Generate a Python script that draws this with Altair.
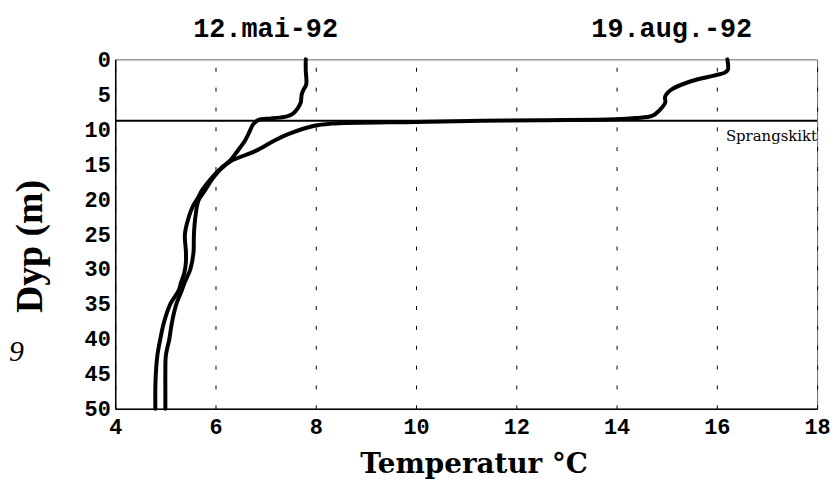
import altair as alt
import pandas as pd

# ---- data ----
may_depth = [0, 1.5, 3.6, 4.3, 5.0, 6.2, 7.0, 7.8, 8.2, 8.45, 8.7, 9.3, 10.5, 11.6, 13.0,
             14.5, 15.5, 16.9, 18.75, 19.7, 21.0, 22.5, 25.0, 27.5, 29.0, 30.5, 32.0,
             33.0, 35.0, 37.7, 40.0, 42.4, 45.0, 47.2, 50.0]
may_temp = [7.80, 7.80, 7.81, 7.76, 7.72, 7.70, 7.64, 7.54, 7.41, 7.10, 6.85, 6.75, 6.67,
            6.59, 6.45, 6.29, 6.12, 5.93, 5.73, 5.66, 5.55, 5.47, 5.39, 5.41, 5.41, 5.38,
            5.31, 5.27, 5.10, 4.97, 4.90, 4.84, 4.81, 4.80, 4.80]

aug_depth = [0, 1.5, 1.9, 2.3, 3.1, 4.3, 5.3, 6.2, 7.4, 8.1, 8.4, 8.57, 8.7, 8.8, 8.95,
             9.2, 9.5, 10.7, 11.6, 13.1, 14.6, 15.8, 17.0, 18.75, 20.2, 22.5, 25.0, 27.7,
             30.0, 32.0, 33.0, 35.0, 37.7, 40.0, 42.4, 45.0, 47.2, 50.0]
aug_temp = [16.21, 16.22, 16.16, 15.96, 15.50, 15.10, 14.97, 14.97, 14.84, 14.71, 14.38,
            13.98, 12.5, 11.3, 10.0, 8.30, 7.97, 7.45, 7.18, 6.80, 6.30, 6.09, 5.95, 5.79,
            5.66, 5.60, 5.57, 5.56, 5.50, 5.38, 5.33, 5.22, 5.13, 5.08, 5.01, 5.00, 5.00,
            5.00]

series_names = ["12.mai-92", "19.aug.-92"]
series_label_temp = [7.0, 15.1]

thermocline_depth = [8.8]
thermocline_label = ["Sprangskikt"]

x_ticks = [4, 6, 8, 10, 12, 14, 16, 18]
y_ticks = [0, 5, 10, 15, 20, 25, 30, 35, 40, 45, 50]

stray_text = ["9"]

# ---- tables ----
df = pd.concat([
    pd.DataFrame({"depth": may_depth, "temp": may_temp, "series": series_names[0]}),
    pd.DataFrame({"depth": aug_depth, "temp": aug_temp, "series": series_names[1]}),
])
labels_df = pd.DataFrame({"series": series_names, "temp": series_label_temp})
thermo_df = pd.DataFrame({"depth": thermocline_depth, "label": thermocline_label,
                          "temp": [x_ticks[-1]]})
stray_df = pd.DataFrame({"t": stray_text})

x_scale = alt.Scale(domain=[x_ticks[0], x_ticks[-1]], nice=False, zero=False)
y_scale = alt.Scale(domain=[y_ticks[0], y_ticks[-1]], reverse=True, nice=False)

x_axis = alt.Axis(
    values=x_ticks, title="Temperatur °C", grid=True, ticks=False,
    gridColor="black", gridDash=[4, 16], gridWidth=1, gridOpacity=1,
    domainColor="black", domainWidth=1.5,
    labelFont="Liberation Mono", labelFontWeight="bold", labelFontSize=22,
    labelColor="black", labelPadding=8, labelFlush=False, labelOverlap=False,
    titleFont="DejaVu Serif", titleFontWeight="bold", titleFontSize=28,
    titleColor="black", titleBaseline="alphabetic", titleY=64, titleX=361)
y_axis = alt.Axis(
    values=y_ticks, title="Dyp (m)", grid=False, ticks=False,
    domainColor="black", domainWidth=1.5,
    labelFont="Liberation Mono", labelFontWeight="bold", labelFontSize=22,
    labelColor="black", labelPadding=5, labelFlush=False, labelOverlap=False,
    titleFont="Liberation Serif", titleFontWeight="bold", titleFontSize=38,
    titleColor="black", titleBaseline="alphabetic", titleAngle=270,
    titleX=-74, titleY=188, titleAlign="center")

x_enc = alt.X("temp:Q", scale=x_scale, axis=x_axis)
y_enc = alt.Y("depth:Q", scale=y_scale, axis=y_axis)

lines = alt.Chart(df).mark_line(
    color="black", strokeWidth=4, interpolate="catmull-rom", strokeCap="round",
    strokeJoin="round"
).encode(x=x_enc, y=y_enc, detail="series:N", order=alt.Order("depth:Q"))

thermo = alt.Chart(thermo_df).mark_rule(color="black", strokeWidth=2).encode(y=y_enc)

thermo_text = alt.Chart(thermo_df).mark_text(
    align="right", baseline="alphabetic", dy=20, font="DejaVu Serif", fontSize=15,
    color="black"
).encode(x=x_enc, y=y_enc, text="label:N")

series_text = alt.Chart(labels_df).mark_text(
    align="center", baseline="alphabetic", font="Liberation Mono", fontWeight="bold",
    fontSize=27, color="black"
).encode(x=x_enc, y=alt.value(-23), text="series:N")

stray = alt.Chart(stray_df).mark_text(
    align="left", baseline="alphabetic", font="Liberation Serif", fontStyle="italic",
    fontSize=30, color="black"
).encode(x=alt.value(-107), y=alt.value(304), text="t:N")

chart = alt.layer(lines, thermo, thermo_text, series_text, stray).properties(
    width=707, height=352,
    autosize=alt.AutoSizeParams(type="none"),
    padding={"left": 108, "top": 50, "right": 15, "bottom": 70},
    background="white",
).configure_view(stroke="#666", strokeWidth=1)

chart.save("out.html", embed_options={"renderer": "svg", "actions": False})
